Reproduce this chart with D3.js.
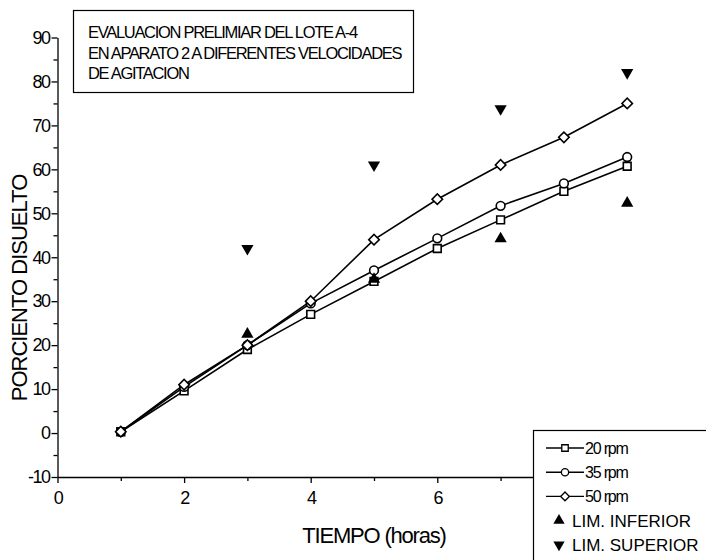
<!DOCTYPE html>
<html>
<head>
<meta charset="utf-8">
<script src="https://cdn.jsdelivr.net/npm/d3@7"></script>
<style>
  body { margin: 0; background: #fff; }
  svg { display: block; font-family: "Liberation Sans", Arial, sans-serif; }
  .axis path, .axis line { stroke: #000; stroke-width: 1.3px; }
  .axis text { font-size: 18px; fill: #000; letter-spacing: -1.5px; }
</style>
</head>
<body>
<div class="chart"></div>
<script>
// data
var hours = [1, 2, 3, 4, 5, 6, 7, 8, 9];
var rpm20 = [0.3, 9.6, 19, 27, 34.5, 42, 48.5, 55, 60.7];
var rpm35 = [0.3, 10.5, 20, 29.5, 37, 44.3, 51.7, 56.8, 62.8];
var rpm50 = [0.3, 11, 20, 30, 44, 53.2, 61, 67.3, 75];
var limHours = [3, 5, 7, 9];
var limInferior = [22.5, 35, 44.2, 52.3];
var limSuperior = [42, 61, 73.8, 82];

var yTicks = [-10, 0, 10, 20, 30, 40, 50, 60, 70, 80, 90];
var xTicks = [0, 2, 4, 6, 8, 10];
var titleLines = ["EVALUACION PRELIMIAR DEL LOTE A-4",
                  "EN APARATO 2 A DIFERENTES VELOCIDADES",
                  "DE AGITACION"];
var legendLabels = ["20 rpm", "35 rpm", "50 rpm", "LIM. INFERIOR", "LIM. SUPERIOR"];

var svg = d3.select(".chart").append("svg").attr("width", 706).attr("height", 560);

var x = d3.scaleLinear().domain([0, 10]).range([57.5, 690.5]);
var y = d3.scaleLinear().domain([-10, 90]).range([477, 37.5]);

// axes
svg.append("g")
    .attr("class", "axis")
    .attr("transform", "translate(0,477)")
    .call(d3.axisBottom(x).tickValues(xTicks).tickSize(6).tickSizeOuter(0).tickPadding(8));
svg.append("g")
    .attr("class", "axis")
    .attr("transform", "translate(0,477)")
    .call(d3.axisBottom(x).tickValues([1, 3, 5, 7, 9]).tickSize(4).tickFormat(""))
    .select(".domain").remove();

svg.append("g")
    .attr("class", "axis")
    .attr("transform", "translate(57.5,0)")
    .call(d3.axisLeft(y).tickValues(yTicks).tickSize(6).tickSizeOuter(0).tickPadding(2)
            .tickFormat(d => String(d)));
svg.append("g")
    .attr("class", "axis")
    .attr("transform", "translate(57.5,0)")
    .call(d3.axisLeft(y).tickValues(d3.range(-5, 90, 10)).tickSize(4).tickFormat(""))
    .select(".domain").remove();

// axis titles
svg.append("text")
    .attr("x", 374).attr("y", 543)
    .attr("text-anchor", "middle")
    .style("font-size", "22px")
    .style("letter-spacing", "-1.2px")
    .text("TIEMPO (horas)");

svg.append("text")
    .attr("transform", "translate(27,288) rotate(-90)")
    .attr("text-anchor", "middle")
    .style("font-size", "22px")
    .style("letter-spacing", "-1px")
    .text("PORCIENTO DISUELTO");

// series
var series = [
  {vals: rpm20, sym: d3.symbolSquare, size: 60, rot: 0},
  {vals: rpm35, sym: d3.symbolCircle, size: 60, rot: 0},
  {vals: rpm50, sym: d3.symbolSquare, size: 55, rot: 45}
];

var line = d3.line().x(d => x(d[0])).y(d => y(d[1]));

series.forEach(function(s) {
  var pts = hours.map((h, i) => [h, s.vals[i]]);
  svg.append("path")
      .datum(pts)
      .attr("d", line)
      .attr("fill", "none")
      .attr("stroke", "#000")
      .attr("stroke-width", 1.6);
  svg.selectAll(null)
      .data(pts)
      .enter().append("path")
      .attr("d", d3.symbol().type(s.sym).size(s.size))
      .attr("transform", d => `translate(${x(d[0])},${y(d[1])}) rotate(${s.rot})`)
      .attr("fill", "#fff")
      .attr("stroke", "#000")
      .attr("stroke-width", 1.6);
});

// limits
svg.selectAll(".inf")
    .data(limHours.map((h, i) => [h, limInferior[i]]))
    .enter().append("path")
    .attr("class", "inf")
    .attr("d", d3.symbol().type(d3.symbolTriangle).size(65))
    .attr("transform", d => `translate(${x(d[0])},${y(d[1])})`)
    .attr("fill", "#000");

svg.selectAll(".sup")
    .data(limHours.map((h, i) => [h, limSuperior[i]]))
    .enter().append("path")
    .attr("class", "sup")
    .attr("d", d3.symbol().type(d3.symbolTriangle).size(65))
    .attr("transform", d => `translate(${x(d[0])},${y(d[1])}) rotate(180)`)
    .attr("fill", "#000");

// title box
svg.append("rect")
    .attr("x", 73.5).attr("y", 10.5)
    .attr("width", 340).attr("height", 82)
    .attr("fill", "#fff").attr("stroke", "#000").attr("stroke-width", 1.2);

svg.selectAll(".title")
    .data(titleLines)
    .enter().append("text")
    .attr("class", "title")
    .attr("x", 88)
    .attr("y", (d, i) => 38 + i * 20.5)
    .style("font-size", "16.5px")
    .style("letter-spacing", "-1.3px")
    .text(d => d);

// legend
var lg = svg.append("g");
lg.append("rect")
    .attr("x", 533.5).attr("y", 430.5)
    .attr("width", 200).attr("height", 200)
    .attr("fill", "#fff").attr("stroke", "#000").attr("stroke-width", 1.2);

legendLabels.forEach(function(lbl, i) {
  var cy = 448 + i * 24.2;
  if (i < 3) {
    lg.append("line")
        .attr("x1", 546).attr("x2", 584)
        .attr("y1", cy).attr("y2", cy)
        .attr("stroke", "#000").attr("stroke-width", 1.4);
    lg.append("path")
        .attr("d", d3.symbol().type(series[i].sym).size(series[i].size * 0.7))
        .attr("transform", `translate(565,${cy}) rotate(${series[i].rot})`)
        .attr("fill", "#fff").attr("stroke", "#000").attr("stroke-width", 1.3);
    lg.append("text")
        .attr("x", 585).attr("y", cy + 6)
        .style("font-size", "16px")
        .style("letter-spacing", "-1.2px")
        .text(lbl);
  } else {
    lg.append("path")
        .attr("d", d3.symbol().type(d3.symbolTriangle).size(55))
        .attr("transform", `translate(559,${cy}) rotate(${i == 3 ? 0 : 180})`)
        .attr("fill", "#000");
    lg.append("text")
        .attr("x", 572).attr("y", cy + 6)
        .style("font-size", "17px")
        .style("letter-spacing", "0px")
        .text(lbl);
  }
});
</script>
</body>
</html>
